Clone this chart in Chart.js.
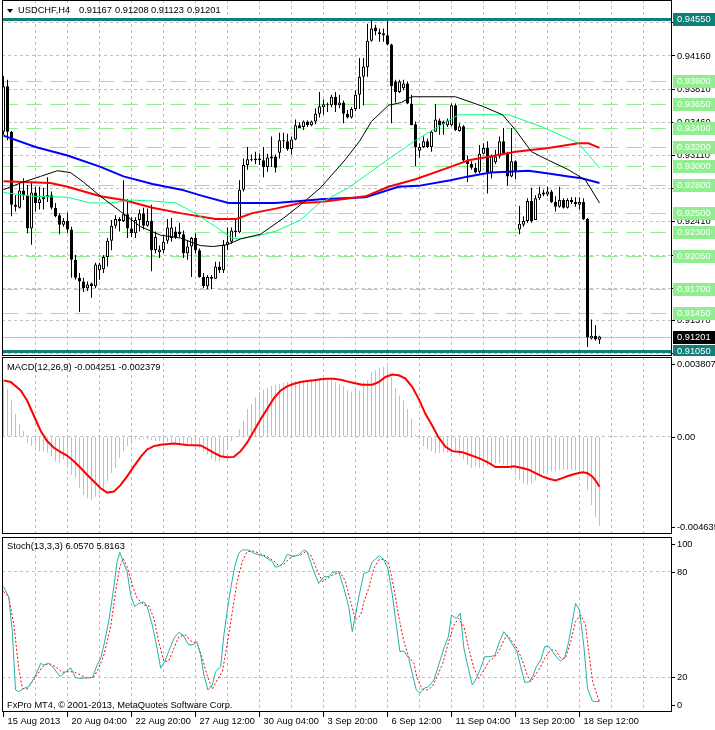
<!DOCTYPE html>
<html>
<head>
<meta charset="utf-8">
<script src="https://cdn.jsdelivr.net/npm/chart.js@4.4.0/dist/chart.umd.min.js"></script>
<style>
html,body{margin:0;padding:0;background:#fff;}
#wrap{position:relative;width:715px;height:730px;overflow:hidden;background:#fff;}
#wrap canvas{position:absolute;left:0;}
.t{position:absolute;font-family:"Liberation Sans",Arial,sans-serif;font-size:9.3px;line-height:10px;color:#000;white-space:pre;z-index:5;}
#tri{position:absolute;left:7px;top:9px;width:0;height:0;border-left:3px solid transparent;border-right:3px solid transparent;border-top:4px solid #000;z-index:5;}
</style>
</head>
<body>
<div id="wrap">
  <canvas id="cMain" width="715" height="356" style="top:0px"></canvas>
  <canvas id="cMacd" width="715" height="178" style="top:356px"></canvas>
  <canvas id="cStoch" width="715" height="194" style="top:536px"></canvas>
  <div id="tri"></div>
  <div class="t" id="hSym" style="left:18px;top:5px"></div>
  <div class="t" id="hO" style="left:79px;top:5px"></div>
  <div class="t" id="hH" style="left:115px;top:5px"></div>
  <div class="t" id="hL" style="left:151px;top:5px"></div>
  <div class="t" id="hC" style="left:187px;top:5px"></div>
  <div class="t" id="hMacd" style="left:7px;top:362px"></div>
  <div class="t" id="hStoch" style="left:7px;top:541px"></div>
  <div class="t" id="hCopy" style="left:7px;top:700px"></div>
</div>
<script>
// ---------------- DATA ----------------
const symbolName = 'USDCHF,H4';
const copyrightText = 'FxPro MT4, \u00A9 2001-2013, MetaQuotes Software Corp.';
const timeLabels = ['15 Aug 2013','20 Aug 04:00','22 Aug 20:00','27 Aug 12:00','30 Aug 04:00','3 Sep 20:00','6 Sep 12:00','11 Sep 04:00','13 Sep 20:00','18 Sep 12:00'];
const timeLabelBars = [0,16,32,48,64,80,96,112,128,144];
const gridBars = [8,16,24,32,40,48,56,64,72,80,88,96,104,112,120,128,136,144,152,160];
const priceTicks = [0.94510,0.94160,0.93810,0.93460,0.93110,0.92760,0.92410,0.92060,0.91710,0.91370,0.91020];
const priceMin = 0.909954, priceMax = 0.947507;
const levelPrices = [0.9390,0.9365,0.9340,0.9320,0.9300,0.9280,0.9250,0.9230,0.9205,0.9170,0.9145];
const bandPrices = [0.9455,0.9105];
const bidPrice = 0.91201;
const macdMin = -0.004635, macdMax = 0.003807;
const macdTickValues = [0.003807, 0, -0.004635];
const macdTickLabels = ['0.003807','0.00','-0.004635'];
const stochTickValues = [100,80,20,0];
const stochTickLabels = ['100','80','20','0'];
const stochLevels = [80,20];

const barOpen = [
.9336,.9384,.9336,.9259,.9256,.9274,.9269,.9234,.9272,.9261,
.9265,.9267,.9269,.9256,.9248,.9238,.9242,.9233,.9201,.9182,
.9178,.9171,.9176,.9173,.9190,.9191,.9204,.9221,.9237,.9244,
.9242,.9249,.9234,.9229,.9243,.9250,.9237,.9242,.9211,.9209,
.9211,.9221,.9224,.9231,.9231,.9228,.9208,.9215,.9224,.9211,
.9183,.9173,.9183,.9181,.9194,.9190,.9217,.9220,.9232,.9230,
.9275,.9301,.9307,.9306,.9308,.9306,.9299,.9308,.9310,.9314,
.9327,.9326,.9318,.9328,.9343,.9341,.9347,.9343,.9347,.9355,
.9362,.9365,.9364,.9373,.9364,.9367,.9355,.9351,.9360,.9375,
.9394,.9404,.9432,.9446,.9439,.9440,.9438,.9428,.9389,.9378,
.9382,.9387,.9366,.9344,.9316,.9320,.9326,.9320,.9336,.9348,
.9347,.9343,.9343,.9364,.9337,.9342,.9306,.9302,.9298,.9294,
.9313,.9319,.9293,.9304,.9310,.9326,.9313,.9289,.9305,.9233,
.9238,.9242,.9263,.9243,.9266,.9270,.9270,.9273,.9262,.9257,
.9264,.9256,.9264,.9262,.9259,.9262,.9244,.9118,.9121,.91167];
const barHigh = [
.9395,.9391,.9337,.9269,.9282,.9287,.9280,.9282,.9278,.9278,
.9277,.9288,.9273,.9261,.9250,.9245,.9251,.9236,.9206,.9187,
.9182,.9178,.9177,.9198,.9198,.9206,.9224,.9243,.9248,.9246,
.9285,.9265,.9246,.9246,.9254,.9256,.9255,.9259,.9231,.9216,
.9227,.9244,.9245,.9236,.9240,.9232,.9222,.9225,.9229,.9213,
.9187,.9185,.9185,.9199,.9199,.9222,.9235,.9235,.9243,.9285,
.9308,.9320,.9312,.9315,.9313,.9320,.9313,.9331,.9312,.9335,
.9335,.9334,.9331,.9349,.9346,.9348,.9348,.9348,.9361,.9378,
.9370,.9367,.9375,.9378,.9375,.9369,.9359,.9362,.9380,.9414,
.9414,.9450,.9454,.9449,.9445,.9445,.9453,.9429,.9391,.9391,
.9391,.9389,.9375,.9347,.9324,.9331,.9329,.9338,.9365,.9350,
.9348,.9350,.9366,.9366,.9345,.9343,.9311,.9305,.9303,.9322,
.9324,.9326,.9312,.9317,.9331,.9340,.9315,.9340,.9306,.9258,
.9247,.9266,.9277,.9269,.9278,.9275,.9278,.9275,.9268,.9278,
.9266,.9266,.9267,.9267,.9267,.9266,.9245,.9138,.9132,.91208];
const barLow = [
.9333,.9327,.9247,.9252,.9255,.9264,.9229,.9217,.9252,.9254,
.9254,.9262,.9254,.9246,.9228,.9236,.9229,.9182,.9180,.9146,
.9167,.9168,.9161,.9171,.9180,.9187,.9194,.9211,.9234,.9231,
.9241,.9224,.9225,.9224,.9231,.9233,.9236,.9189,.9208,.9203,
.9208,.9218,.9220,.9223,.9225,.9203,.9201,.9183,.9208,.9182,
.9171,.9170,.9170,.9181,.9187,.9187,.9211,.9218,.9225,.9229,
.9273,.9296,.9305,.9302,.9301,.9288,.9294,.9299,.9293,.9308,
.9319,.9316,.9312,.9327,.9340,.9338,.9341,.9342,.9344,.9351,
.9354,.9357,.9362,.9357,.9361,.9345,.9350,.9350,.9358,.9360,
.9364,.9394,.9431,.9438,.9431,.9431,.9427,.9345,.9367,.9377,
.9380,.9365,.9343,.9300,.9309,.9319,.9319,.9315,.9336,.9333,
.9333,.9341,.9342,.9337,.9336,.9305,.9283,.9296,.9292,.9292,
.9312,.9271,.9287,.9302,.9308,.9312,.9279,.9288,.9286,.9228,
.9236,.9240,.9240,.9243,.9264,.9268,.9268,.9261,.9252,.9256,
.9255,.9255,.9260,.9257,.9254,.9243,.9109,.9117,.9116,.91123];
const barClose = [
.9384,.9336,.9259,.9257,.9274,.9269,.9234,.9272,.9261,.9265,
.9267,.9269,.9256,.9247,.9238,.9242,.9233,.9201,.9182,.9178,
.9171,.9175,.9173,.9196,.9196,.9204,.9221,.9237,.9244,.9242,
.9249,.9234,.9229,.9243,.9250,.9237,.9242,.9211,.9225,.9212,
.9220,.9235,.9235,.9225,.9228,.9208,.9215,.9224,.9211,.9183,
.9173,.9183,.9181,.9194,.9190,.9217,.9220,.9232,.9230,.9275,
.9301,.9307,.9306,.9308,.9306,.9299,.9309,.9310,.9298,.9327,
.9326,.9318,.9328,.9343,.9340,.9347,.9343,.9347,.9355,.9363,
.9365,.9364,.9373,.9364,.9367,.9355,.9351,.9360,.9375,.9394,
.9405,.9432,.9445,.9442,.9441,.9438,.9428,.9384,.9378,.9389,
.9387,.9366,.9343,.9320,.9320,.9326,.9320,.9336,.9349,.9343,
.9344,.9348,.9364,.9338,.9342,.9306,.9302,.9298,.9293,.9313,
.9319,.9293,.9310,.9310,.9326,.9313,.9289,.9305,.9294,.9239,
.9242,.9263,.9242,.9266,.9271,.9272,.9273,.9262,.9257,.9264,
.9256,.9264,.9262,.9260,.9262,.9244,.9119,.9121,.9117,.91201];

// moving averages (bar position, value)
const maBlackBar = [0,4.25,9.25,13.5,16.75,20,24.25,29.25,34.25,39.25,44.25,49.25,52.5,56,59.25,64.25,70,74.25,79.25,85.5,89,92,96.25,99.5,102,113,119.75,124.75,128,132,136.25,141.25,145.5,149];
const maBlackVal = [.9275,.9282,.9289,.9295,.9293,.9283,.9268,.9252,.9236,.9227,.9224,.9216,.9215,.9217,.9223,.9228,.9245,.9259,.9277,.9307,.9326,.9347,.9364,.9367,.9373,.9373,.9363,.9354,.9338,.9315,.9306,.9296,.9285,.9261];
const maGreenBar = [0,7.5,16,21.75,26.75,32.5,37.25,43,48,53,57,58.75,63,68,74.25,78.75,86.25,95.5,103,111.75,113.75,126.25,134.75,143.75,149];
const maGreenVal = [.9272,.9268,.9267,.9261,.9261,.9264,.9263,.9261,.9250,.9236,.9224,.9223,.9226,.9231,.9243,.9260,.9277,.9305,.9327,.9349,.9354,.9354,.9341,.9324,.9298];
const maRedBar = [0,11.75,16,24.25,30,37.25,44.5,53,58.25,62,68,74.25,79.25,90.5,96.25,103,111.75,116.25,121.75,128,136.25,143.75,146.25,149];
const maRedVal = [.9284,.9282,.9278,.9268,.9264,.9256,.9250,.9244,.9244,.9250,.9255,.9261,.9262,.9268,.9278,.9286,.9299,.9306,.9310,.9315,.9319,.9324,.9324,.9319];
const maBlueBar = [0,8,16,24.25,30,37.25,44.5,49.25,56.25,59.25,68,74.25,79.25,90.5,98.75,103.75,111.75,116.25,121.75,126.25,131.25,136.25,141.25,144.5,149];
const maBlueVal = [.9332,.9320,.9311,.9299,.9289,.9281,.9275,.9269,.9261,.9261,.9261,.9263,.9265,.9267,.9278,.9279,.9285,.9289,.9293,.9294,.9295,.9292,.9289,.9287,.9282];

// MACD main (histogram), one value per bar
const macdHist = [
0.002613,0.002291,0.001729,0.001085,0.000603,0.000281,-0.000281,-0.000442,-0.000442,-0.000683,
-0.000683,-0.000764,-0.000925,-0.001166,-0.001246,-0.001085,-0.001327,-0.001809,-0.001970,-0.002452,
-0.002774,-0.002934,-0.003015,-0.002854,-0.002693,-0.002533,-0.002131,-0.001729,-0.001487,-0.001005,
-0.000683,-0.000442,-0.000281,-0.000121,-0.000153,-0.000121,-0.000121,-0.000153,-0.000201,-0.000201,
-0.000249,-0.000249,-0.000281,-0.000281,-0.000314,-0.000314,-0.000362,-0.000362,-0.000442,-0.000523,
-0.000683,-0.000844,-0.001005,-0.001166,-0.001166,-0.000925,-0.000523,-0.000201,0.000008,0.000362,
0.000764,0.001327,0.001568,0.001889,0.002131,0.002259,0.002324,0.002420,0.002484,0.002533,
0.002565,0.002613,0.002613,0.002645,0.002677,0.002693,0.002693,0.002726,0.002742,0.002742,
0.002742,0.002693,0.002693,0.002613,0.002533,0.002420,0.002211,0.002163,0.002291,0.002211,
0.002613,0.002693,0.003063,0.003176,0.003256,0.003337,0.003337,0.002854,0.002324,0.001970,
0.001729,0.001327,0.000844,0.000121,-0.000088,-0.000442,-0.000603,-0.000683,-0.000796,-0.000764,
-0.000764,-0.000764,-0.000732,-0.000764,-0.000892,-0.001085,-0.001327,-0.001487,-0.001407,-0.001487,
-0.001439,-0.001375,-0.001327,-0.001278,-0.001246,-0.001327,-0.001487,-0.001568,-0.001809,-0.002050,
-0.002211,-0.002291,-0.002211,-0.002082,-0.001889,-0.001761,-0.001696,-0.001648,-0.001648,-0.001600,
-0.001568,-0.001568,-0.001568,-0.001600,-0.001648,-0.001729,-0.002533,-0.003256,-0.003819,-0.004251];
const macdSigBar = [0,1.8,4.3,5.9,7.6,9.3,10.9,12.6,14.3,15.9,17.6,19.3,20.9,22.6,24.3,25.9,27.6,29.3,30.9,32.6,34.3,35.9,37.6,39.3,42.6,45.9,49.3,50.9,52.6,54.3,55.9,57.6,59.3,60.9,62.6,64.3,65.9,67.6,69.3,70.9,72.6,74.3,75.9,77.6,79.3,80.9,82.6,84.3,85.9,87.6,89.7,92.2,93.8,95.5,97.2,98.8,100.5,102.2,103.8,105.5,107.2,108.8,110.5,112.2,114.7,116.3,118,119.7,121.3,123,126.3,127.6,129.7,131.3,133,134.7,136.3,138,139.7,141.3,143,144.7,145.9,147.2,148.2,149];
const macdSigVal = [0.002693,0.002613,0.002211,0.001729,0.001005,0.000281,-0.000201,-0.000523,-0.000732,-0.000892,-0.001166,-0.001487,-0.001809,-0.002131,-0.002452,-0.002661,-0.002613,-0.002291,-0.001889,-0.001407,-0.000957,-0.000603,-0.000442,-0.000378,-0.000314,-0.000394,-0.000410,-0.000571,-0.000764,-0.000925,-0.000973,-0.000957,-0.000683,-0.000281,0.000281,0.000844,0.001327,0.001841,0.002211,0.002404,0.002533,0.002613,0.002661,0.002693,0.002742,0.002774,0.002774,0.002726,0.002645,0.002565,0.002484,0.002484,0.002613,0.002854,0.002967,0.002935,0.002774,0.002372,0.001809,0.001085,0.000523,-0.000040,-0.000474,-0.000683,-0.000732,-0.000844,-0.000957,-0.001085,-0.001246,-0.001439,-0.001439,-0.001407,-0.001487,-0.001568,-0.001729,-0.001889,-0.002002,-0.002082,-0.001970,-0.001857,-0.001761,-0.001696,-0.001729,-0.001889,-0.002131,-0.002379];

// Stochastic
const stochMainBar = [0,1.3,2.2,3,3.8,5.1,6.3,7.6,8.4,9.3,10.1,11.3,12.6,14.1,15.1,16.8,18,19.3,20.9,22.2,23.4,24.3,25.1,26.3,27.6,28.4,29.1,29.9,30.9,31.8,32.8,33.8,35.1,35.9,37.2,38.4,39.3,40.3,41.3,42.6,43.8,44.9,46.3,47.6,48.3,49.3,50.1,51.1,52.2,53,54.3,55.1,55.9,56.8,57.8,58.8,59.7,61.3,62.6,65.1,67.2,68,69.3,70.1,70.9,72.6,73.8,75.1,75.9,77.6,78.8,80.1,81.3,82.2,83.8,85.1,86.3,87.2,88,89,90.1,91.3,92.2,93,94,95.1,96.1,97.2,98.2,99.1,100.1,101.3,102.3,103.2,104.1,105.1,106.3,107.6,108.8,110.1,111.2,112,113.2,114.2,115.1,116.2,117.2,118.2,119.3,120.3,121.3,122.8,124,125.1,126.3,127.3,128.4,129.3,130.3,131.3,132.3,133.2,134.3,135.3,136.2,137.3,138.4,139.3,140.3,141.3,142.2,143,144,145.1,146,147.2,148.2,149];
const stochMainVal = [71.6,65.9,45.9,12.6,11.6,13.5,14.5,19.2,23.0,27.8,26.9,27.8,25.0,20.2,22.1,25.3,19.6,19.2,19.6,19.6,26.9,30.7,38.3,51.6,71.6,85.9,91.2,85.9,80.2,66.9,60.2,62.1,63.0,60.2,49.7,36.4,25.0,28.8,34.5,42.1,45.5,44.0,38.3,38.7,40.2,32.6,21.1,12.6,15.4,23.0,25.9,44.0,57.3,70.7,83.0,90.7,92.6,92.6,90.7,89.1,85.9,82.7,83.6,85.9,90.1,88.8,89.7,92.6,91.6,80.2,73.5,77.3,77.3,79.8,80.2,70.7,60.2,45.9,55.4,67.8,79.2,80.2,85.9,87.4,89.3,86.9,82.1,66.9,49.7,34.5,34.9,30.7,21.1,12.6,10.7,13.5,14.5,18.3,26.9,36.4,43.0,55.4,53.5,56.4,36.4,25.0,15.4,19.2,25.0,31.6,31.6,32.2,40.2,45.9,42.1,38.3,34.5,25.9,17.0,17.0,20.2,25.9,29.7,37.3,37.7,34.5,31.0,29.1,31.0,40.2,51.6,62.1,58.3,37.3,13.5,6.3,5.9,6.057];
const stochSigBar = [0,1.3,2.6,3.8,4.7,5.9,7.2,8.4,9.7,11.3,13,14.7,15.9,17.6,19.3,20.9,22.6,23.8,25.1,26.8,28,29.1,29.9,30.9,32.2,33.4,35.1,36.3,37.6,38.8,40.1,41.3,42.6,43.8,45.5,46.8,48.4,49.7,50.9,52.2,53.4,54.7,55.9,57.2,58.4,59.7,60.9,62.6,64.3,65.9,67.6,68.8,70.1,71.3,72.6,74.3,75.5,76.8,78.4,79.7,80.9,82.6,84.3,85.5,86.8,88,89.3,90.1,91.3,92.6,93.8,95.1,96.3,97.6,98.8,100.1,101.3,102.6,103.4,104.7,105.9,107.2,108.4,109.8,111.3,112.6,113.8,115.1,116.3,117.6,118.8,120.1,121.3,122.6,123.8,125.1,125.9,127.2,128.4,129.7,130.9,131.8,133,134.3,135.5,136.8,138,139.3,140.5,141.8,143,144.3,145.5,146.3,147.3,148.4,149];
const stochSigVal = [68.8,65.9,49.7,25.0,13.5,13.1,17.3,21.1,25.9,27.8,25.9,22.7,23.0,23.0,21.1,19.2,20.2,25.0,32.6,48.8,68.8,83.0,87.8,83.0,72.6,65.0,61.1,60.8,53.5,40.2,28.8,29.1,36.4,43.0,44.0,40.6,39.2,30.7,21.1,13.1,18.3,23.0,38.3,57.3,74.5,85.9,91.6,92.0,90.3,88.8,86.3,83.6,84.4,87.4,89.3,89.7,91.6,89.7,81.1,74.5,76.4,78.7,79.6,74.5,63.0,52.6,55.4,63.0,70.7,82.1,86.9,87.4,85.0,70.7,54.5,40.2,31.6,27.8,19.2,13.1,12.6,14.5,20.2,27.8,40.2,49.7,53.5,48.8,36.4,25.0,19.2,24.0,28.8,31.0,34.5,41.1,44.0,40.2,36.4,29.7,21.1,17.3,21.1,25.9,31.6,35.4,35.4,30.7,30.7,40.2,51.6,55.4,49.7,34.5,17.3,9.7,5.8163];

// ---------------- STYLE ----------------
const FONT = '"Liberation Sans", Arial, sans-serif';
const FS = 9.3;
const GRID = '#c0c0c0';
const X_MIN = -0.375, X_MAX = 166.875;
const N = barClose.length;
const barIdx = barClose.map((_, i) => i);

// header texts
const last = N - 1;
document.getElementById('hSym').textContent = symbolName;
document.getElementById('hO').textContent = barOpen[last].toFixed(5);
document.getElementById('hH').textContent = barHigh[last].toFixed(5);
document.getElementById('hL').textContent = barLow[last].toFixed(5);
document.getElementById('hC').textContent = barClose[last].toFixed(5);
document.getElementById('hMacd').textContent = 'MACD(12,26,9) ' + macdHist[last].toFixed(6) + ' ' + macdSigVal[macdSigVal.length-1].toFixed(6);
document.getElementById('hStoch').textContent = 'Stoch(13,3,3) ' + stochMainVal[stochMainVal.length-1].toFixed(4) + ' ' + stochSigVal[stochSigVal.length-1].toFixed(4);
document.getElementById('hCopy').textContent = copyrightText;

const pairs = (xs, ys) => xs.map((x, i) => ({x: x, y: ys[i]}));
const noPad = s => { s.paddingTop = 0; s.paddingBottom = 0; s.paddingLeft = 0; s.paddingRight = 0; };

const framePlugin = {
  id: 'frame',
  afterDraw(chart) {
    const {ctx, chartArea: a} = chart;
    ctx.save();
    ctx.setLineDash([]);
    ctx.strokeStyle = '#000';
    ctx.lineWidth = 1;
    ctx.strokeRect(a.left + 0.5, a.top + 0.5, a.right - a.left, a.bottom - a.top - 1);
    ctx.restore();
  }
};

function sideLabels(values, labels) {
  return {
    id: 'sideLabels',
    afterDraw(chart) {
      const {ctx, chartArea: a, scales} = chart;
      const y = scales.y;
      ctx.save();
      ctx.setLineDash([]);
      ctx.font = FS + 'px ' + FONT;
      ctx.fillStyle = '#000';
      ctx.strokeStyle = '#000';
      ctx.lineWidth = 1;
      ctx.textBaseline = 'middle';
      ctx.textAlign = 'left';
      values.forEach((v, k) => {
        let py = y.getPixelForValue(v);
        py = Math.round(Math.min(Math.max(py, a.top + 7), a.bottom - 7));
        ctx.beginPath();
        ctx.moveTo(a.right, py + 0.5);
        ctx.lineTo(a.right + 4, py + 0.5);
        ctx.stroke();
        ctx.fillText(labels[k], a.right + 6, py + 0.5);
      });
      ctx.restore();
    }
  };
}

const levelsPlugin = {
  id: 'levels',
  beforeDatasetsDraw(chart) {
    const {ctx, chartArea: a, scales} = chart;
    const y = scales.y;
    ctx.save();
    ctx.beginPath();
    ctx.rect(a.left, a.top, a.right - a.left, a.bottom - a.top);
    ctx.clip();
    ctx.lineWidth = 1;
    ctx.strokeStyle = '#90ee90';
    ctx.setLineDash([16, 8]);
    levelPrices.forEach(p => {
      const yy = Math.round(y.getPixelForValue(p)) + 0.5;
      ctx.beginPath(); ctx.moveTo(a.left, yy); ctx.lineTo(a.right, yy); ctx.stroke();
    });
    ctx.setLineDash([]);
    ctx.strokeStyle = '#c0c0c0';
    const by = Math.round(y.getPixelForValue(bidPrice)) + 0.5;
    ctx.beginPath(); ctx.moveTo(a.left, by); ctx.lineTo(a.right, by); ctx.stroke();
    ctx.strokeStyle = '#0f7f7a';
    ctx.lineWidth = 3;
    bandPrices.forEach(p => {
      const yy = Math.round(y.getPixelForValue(p)) + 0.5;
      ctx.beginPath(); ctx.moveTo(a.left, yy); ctx.lineTo(a.right, yy); ctx.stroke();
    });
    ctx.restore();
  },
  afterDraw(chart) {
    const {ctx, chartArea: a, scales} = chart;
    const y = scales.y;
    const boxes = []
      .concat(levelPrices.map(p => ({p: p, bg: '#90ee90', fg: '#ffffff'})))
      .concat(bandPrices.map(p => ({p: p, bg: '#0f7f7a', fg: '#ffffff'})))
      .concat([{p: bidPrice, bg: '#000000', fg: '#ffffff'}]);
    ctx.save();
    ctx.font = FS + 'px ' + FONT;
    ctx.textBaseline = 'middle';
    ctx.textAlign = 'left';
    boxes.forEach(b => {
      const yy = Math.round(y.getPixelForValue(b.p));
      ctx.fillStyle = b.bg;
      ctx.fillRect(a.right + 2, yy - 6, chart.width - a.right - 2, 13);
      ctx.fillStyle = b.fg;
      ctx.fillText(b.p.toFixed(5), a.right + 6, yy + 0.5);
    });
    ctx.restore();
  }
};

const baseOpts = {
  responsive: false,
  maintainAspectRatio: false,
  animation: false,
  devicePixelRatio: 1,
  events: [],
  plugins: { legend: {display: false}, tooltip: {enabled: false}, title: {display: false} }
};

function hiddenX() {
  return {
    type: 'linear', min: X_MIN, max: X_MAX, offset: false,
    afterBuildTicks: s => { s.ticks = gridBars.map(v => ({value: v})); },
    ticks: { display: false },
    grid: { color: GRID, lineWidth: 1, drawTicks: false, offset: false },
    border: { display: false, dash: [3, 3] },
    afterFit: s => { s.height = 0; noPad(s); }
  };
}

// ---------------- MAIN ----------------
new Chart(document.getElementById('cMain'), {
  type: 'line',
  data: {
    datasets: [
      { type: 'bar', label: 'wick', order: 11, grouped: false,
        data: barIdx.map(i => ({x: i, y: [barLow[i], barHigh[i]]})),
        backgroundColor: '#000', borderWidth: 0, barThickness: 1, inflateAmount: 0, minBarLength: 1 },
      { type: 'bar', label: 'body', order: 10, grouped: false,
        data: barIdx.map(i => ({x: i, y: [barOpen[i], barClose[i]]})),
        backgroundColor: barIdx.map(i => barClose[i] >= barOpen[i] ? '#ffffff' : '#000000'),
        borderColor: '#000', borderWidth: 1, borderSkipped: false, barThickness: 3, inflateAmount: 0, minBarLength: 1 },
      { label: 'MA blue', order: 4, data: pairs(maBlueBar, maBlueVal), borderColor: '#0000ff', borderWidth: 2, pointRadius: 0, tension: 0, fill: false },
      { label: 'MA red', order: 3, data: pairs(maRedBar, maRedVal), borderColor: '#ff0000', borderWidth: 2, pointRadius: 0, tension: 0, fill: false },
      { label: 'MA green', order: 2, data: pairs(maGreenBar, maGreenVal), borderColor: '#00ff7f', borderWidth: 1, pointRadius: 0, tension: 0, fill: false },
      { label: 'MA black', order: 1, data: pairs(maBlackBar, maBlackVal), borderColor: '#000000', borderWidth: 1, pointRadius: 0, tension: 0, fill: false }
    ]
  },
  options: Object.assign({}, baseOpts, {
    layout: { padding: {left: 2, right: 0, top: 0, bottom: 0}, autoPadding: false },
    scales: {
      x: hiddenX(),
      y: {
        type: 'linear', position: 'right', min: priceMin, max: priceMax,
        afterBuildTicks: s => { s.ticks = priceTicks.map(v => ({value: v})); },
        ticks: { autoSkip: false, callback: v => Number(v).toFixed(5), color: '#000', font: {family: FONT, size: FS}, padding: 2 },
        grid: { color: GRID, lineWidth: 1, drawTicks: true, tickLength: 4, tickColor: '#000', tickBorderDash: [] },
        border: { display: false, dash: [3, 3] },
        afterFit: s => { s.width = 44; noPad(s); }
      }
    }
  }),
  plugins: [levelsPlugin, framePlugin]
});

// ---------------- MACD ----------------
new Chart(document.getElementById('cMacd'), {
  type: 'line',
  data: {
    datasets: [
      { type: 'bar', label: 'MACD', order: 2, grouped: false,
        data: barIdx.map(i => ({x: i, y: macdHist[i]})),
        backgroundColor: '#c0c0c0', borderWidth: 0, barThickness: 1, inflateAmount: 0 },
      { label: 'Signal', order: 1, data: pairs(macdSigBar, macdSigVal), borderColor: '#ff0000', borderWidth: 2, pointRadius: 0, tension: 0, fill: false }
    ]
  },
  options: Object.assign({}, baseOpts, {
    layout: { padding: {left: 2, right: 0, top: 1, bottom: 0}, autoPadding: false },
    scales: {
      x: hiddenX(),
      y: {
        type: 'linear', position: 'right', min: macdMin, max: macdMax,
        afterBuildTicks: s => { s.ticks = [{value: 0}]; },
        ticks: { display: false },
        grid: { color: GRID, lineWidth: 1, drawTicks: false },
        border: { display: false, dash: [3, 3] },
        afterFit: s => { s.width = 44; noPad(s); }
      }
    }
  }),
  plugins: [sideLabels(macdTickValues, macdTickLabels), framePlugin]
});

// ---------------- STOCH ----------------
new Chart(document.getElementById('cStoch'), {
  type: 'line',
  data: {
    datasets: [
      { label: 'Signal', order: 2, data: pairs(stochSigBar, stochSigVal), borderColor: '#ff0000', borderWidth: 1, borderDash: [2, 2], pointRadius: 0, tension: 0, fill: false },
      { label: 'Main', order: 1, data: pairs(stochMainBar, stochMainVal), borderColor: '#20b2aa', borderWidth: 1, pointRadius: 0, tension: 0, fill: false }
    ]
  },
  options: Object.assign({}, baseOpts, {
    layout: { padding: {left: 2, right: 0, top: 1, bottom: 0}, autoPadding: false },
    scales: {
      x: {
        type: 'linear', min: X_MIN, max: X_MAX, offset: false,
        afterBuildTicks: s => { s.ticks = [0].concat(gridBars).map(v => ({value: v})); },
        ticks: {
          autoSkip: false, maxRotation: 0, minRotation: 0, align: 'start', labelOffset: 4, padding: -1,
          color: '#000', font: {family: FONT, size: FS},
          callback: v => { const k = timeLabelBars.indexOf(v); return k >= 0 ? timeLabels[k] : ''; }
        },
        grid: {
          lineWidth: 1, offset: false, drawTicks: true, tickLength: 5, tickBorderDash: [],
          color: c => (c.tick && c.tick.value === 0) ? 'rgba(0,0,0,0)' : GRID,
          tickColor: c => (c.tick && timeLabelBars.indexOf(c.tick.value) >= 0) ? '#000' : 'rgba(0,0,0,0)'
        },
        border: { display: false, dash: [3, 3] },
        afterFit: s => { s.height = 18; noPad(s); }
      },
      y: {
        type: 'linear', position: 'right', min: 0, max: 100,
        afterBuildTicks: s => { s.ticks = stochLevels.map(v => ({value: v})); },
        ticks: { display: false },
        grid: { color: GRID, lineWidth: 1, drawTicks: false },
        border: { display: false, dash: [3, 3] },
        afterFit: s => { s.width = 44; noPad(s); }
      }
    }
  }),
  plugins: [sideLabels(stochTickValues, stochTickLabels), framePlugin]
});
</script>
</body>
</html>
